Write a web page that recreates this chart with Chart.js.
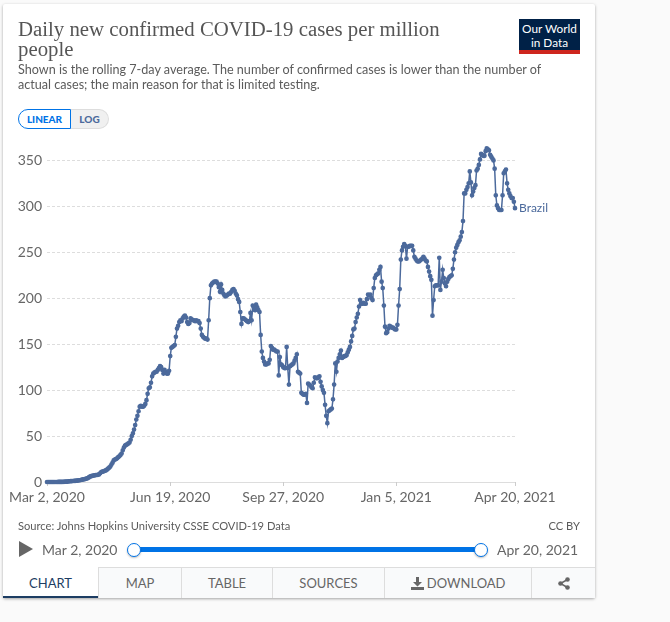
<!DOCTYPE html>
<html>
<head>
<meta charset="utf-8">
<title>Daily new confirmed COVID-19 cases per million people</title>
<script src="https://cdn.jsdelivr.net/npm/chart.js@4"></script>
<style>
html, body { margin: 0; padding: 0; width: 670px; height: 622px; overflow: hidden; background: #fafafa; font-family: Lato, sans-serif; }
#card { position: absolute; left: 3px; top: 4px; width: 592px; height: 594px; background: #fff; border-radius: 2px; box-shadow: 0 1px 3px rgba(0,0,0,.35); }
#graph { position: absolute; left: 0; top: 0; }
.txt { position: absolute; white-space: nowrap; color: #5b5b5b; }
#title { left: 18px; top: 19px; font-family: "Liberation Serif", serif; font-size: 20.8px; line-height: 20px; color: #555; }
#sub { left: 18px; top: 62px; font-size: 12.6px; line-height: 15px; }
#logo { position: absolute; left: 519px; top: 19px; width: 61px; background: #002147; border-bottom: 4px solid #ce261e; color: #fff; font-size: 11.8px; line-height: 13.5px; text-align: center; padding-top: 3px; height: 28px; }
.btn { position: absolute; top: 109px; height: 20px; box-sizing: border-box; font-size: 10px; font-weight: 900; line-height: 18px; text-align: center; }
#linear { left: 18px; width: 53px; border: 1px solid #0073e6; border-radius: 10px 0 0 10px; color: #0073e6; background: #fff; }
#log { left: 71px; width: 38px; border: 1px solid #ddd; border-left: 0; border-radius: 0 10px 10px 0; color: #4c6a9c; background: #f0f0f0; }
#play { position: absolute; left: 19px; top: 541px; width: 0; height: 0; border-left: 14px solid #666; border-top: 8.5px solid transparent; border-bottom: 8.5px solid transparent; }
#bar { position: absolute; left: 134px; top: 547px; width: 347px; height: 5px; background: #0073e6; }
.knob { position: absolute; top: 543px; width: 14px; height: 14px; box-sizing: border-box; border: 1px solid #0073e6; border-radius: 50%; background: #fff; box-shadow: 0 1px 2px rgba(0,0,0,.25); }
.tab { position: absolute; top: 567px; height: 31px; box-sizing: border-box; background: #f9fafb; border-top: 1px solid #ddd; border-left: 1px solid #ddd; color: #666; font-size: 13px; line-height: 31px; text-align: center; }
</style>
</head>
<body>
<div id="card"></div>
<canvas id="graph" width="670" height="622"></canvas>

<div id="title" class="txt">Daily new confirmed COVID-19 cases per million<br>people</div>
<div id="sub" class="txt">Shown is the rolling 7-day average. The number of confirmed cases is lower than the number of<br>actual cases; the main reason for that is limited testing.</div>
<div id="logo">Our World<br>in Data</div>
<div id="linear" class="btn">LINEAR</div>
<div id="log" class="btn">LOG</div>

<div class="txt" style="left:18px;top:519px;font-size:11.15px;">Source: Johns Hopkins University CSSE COVID-19 Data</div>
<div class="txt" style="right:90px;top:519px;font-size:11.15px;">CC BY</div>

<div id="play"></div>
<div class="txt" style="left:42px;top:541px;font-size:14px;color:#666;">Mar 2, 2020</div>
<div id="bar"></div>
<div class="knob" style="left:127px;"></div>
<div class="knob" style="left:474px;"></div>
<div class="txt" style="left:497px;top:541px;font-size:14px;color:#666;">Apr 20, 2021</div>

<div class="tab" style="left:3px;width:95px;background:#fff;border-top:0;border-left:0;border-bottom:2px solid #1d3d63;color:#1d3d63;line-height:33px;">CHART</div>
<div class="tab" style="left:98px;width:83px;">MAP</div>
<div class="tab" style="left:181px;width:91px;">TABLE</div>
<div class="tab" style="left:272px;width:112px;">SOURCES</div>
<div class="tab" style="left:384px;width:147px;"><svg width="13" height="13" viewBox="0 0 13 13" style="vertical-align:-2px"><path fill="#666" d="M5 0h3v5h3L6.500 9.500 2 5h3zM0 10h13v3H0z"/></svg> DOWNLOAD</div>
<div class="tab" style="left:531px;width:64px;"><svg width="12" height="13" viewBox="0 0 12 13" style="vertical-align:-2px"><circle cx="9.500" cy="2.500" r="2.300" fill="#666"/><circle cx="2.500" cy="6.500" r="2.300" fill="#666"/><circle cx="9.500" cy="10.500" r="2.300" fill="#666"/><path stroke="#666" stroke-width="1.500" d="M9.500 2.500l-7 4 7 4" fill="none"/></svg></div>

<script>
// valeurs, un tableau par mois (cas par million, moyenne 7 jours)
const mar2020 = [0,0,0,0,0,0,0,0,0,0,0.1,0.1,0.1,0.1,0.2,0.2,0.3,0.3,0.5,0.6,0.8,0.9,1,1.1,1.2,1.3,1.5,1.6,1.8,1.9];
const apr2020 = [2.2,2.5,2.8,3,3.3,3.7,4.2,5,5.8,6.3,6.7,7,7.3,7.5,7.6,7.8,8.2,9.5,10.8,11.2,11.6,12,12.6,13.4,14.5,15.6,16.8,19,21,23.5];
const may2020 = [24.5,25,25.8,27,28,29.5,31,34.5,37.5,39.5,40.5,41,42,43,46,50,53,57,62,68,72,77,82,83,82,82,83,85,89,96,102];
const jun2020 = [103,108,115,118,119,120,120,122,124,126,125,122,118,122,120,118,118,121,137,146,147,148,149,158,167,170,174,176,175,178];
const jul2020 = [180,181,179,174,172,173,178,177,176,176,175,176,175,175,173,167,160,158,157,156,156,155,176,200,214,216,217,218,218,218,216];
const aug2020 = [212,207,215,209,205,203,202,203,204,205,205,207,209,210,208,205,203,199,196,185,172,178,178,177,176,175,174,175,184,176,192];
const sep2020 = [190,187,193,190,187,185,160,142,135,131,128,128,129,129,133,148,146,144,144,143,142,142,116,136,128,127,125,124,124,147];
const oct2020 = [124,106,126,127,128,129,132,135,139,120,119,118,97,96,95,95,96,86,107,106,105,103,102,108,114,113,113,114,115,109,104];
const nov2020 = [100,97,84,72,64,77,78,79,80,90,106,129,120,131,135,139,143,135,136,137,137,138,141,144,147,153,159,166,167,174];
const dec2020 = [179,183,191,198,194,194,195,194,194,199,204,203,204,200,198,211,222,225,226,227,231,234,218,211,192,169,162,163,167,170,169];
const jan2021 = [168,168,167,166,166,171,192,210,242,252,256,259,257,243,256,256,257,257,257,252,245,243,241,240,240,241,242,243,245,243,241];
const feb2021 = [240,234,229,224,220,181,198,213,214,214,214,244,209,218,231,222,216,213,218,221,223,224,225,232,242,250,255,258];
const mar2021 = [261,263,267,272,284,314,314,318,321,325,338,326,312,316,320,323,339,341,345,351,357,356,355,355,360,363,362,361,356,354,352];
const apr2021 = [350,341,312,301,298,296,296,296,312,336,338,340,325,318,314,311,309,309,305,298];

const brazilValues = [].concat(mar2020, apr2020, may2020, jun2020, jul2020, aug2020, sep2020, oct2020, nov2020, dec2020, jan2021, feb2021, mar2021, apr2021);
const seriesName = 'Brazil';

// ticks de l'axe x : nombre de jours depuis le 2 mars 2020
const xTickDays = [0, 109, 209, 309, 414];
const xTickLabels = ['Mar 2, 2020', 'Jun 19, 2020', 'Sep 27, 2020', 'Jan 5, 2021', 'Apr 20, 2021'];
const yTicks = [0, 50, 100, 150, 200, 250, 300, 350];

const points = brazilValues.map((v, i) => ({ x: i, y: v }));

// nom de la serie au bout de la ligne
const endLabel = {
    id: 'endLabel',
    afterDatasetsDraw(chart) {
        const last = points[points.length - 1];
        const ctx = chart.ctx;
        ctx.save();
        ctx.font = '12px Lato';
        ctx.fillStyle = '#4c6a9c';
        ctx.textBaseline = 'middle';
        ctx.fillText(seriesName, chart.scales.x.getPixelForValue(last.x) + 4, chart.scales.y.getPixelForValue(last.y));
        ctx.restore();
    }
};

new Chart(document.getElementById('graph').getContext('2d'), {
    type: 'line',
    data: {
        datasets: [{
            label: seriesName,
            data: points,
            borderColor: '#4c6a9c',
            backgroundColor: '#4c6a9c',
            borderWidth: 1.5,
            pointRadius: 1.6,
            tension: 0,
            clip: false
        }]
    },
    options: {
        responsive: false,
        animation: false,
        devicePixelRatio: 1,
        layout: { padding: { left: 0, right: 155, top: 142, bottom: 0 } },
        plugins: { legend: { display: false }, tooltip: { enabled: false } },
        scales: {
            x: {
                type: 'linear',
                min: 0,
                max: 414,
                afterBuildTicks(axis) { axis.ticks = xTickDays.map(d => ({ value: d })); },
                afterFit(axis) { axis.height = 140; },
                grid: { display: false, drawTicks: false },
                border: { color: '#ddd', width: 1 },
                ticks: {
                    autoSkip: false,
                    maxRotation: 0,
                    padding: 7,
                    color: '#666',
                    font: { family: 'Lato', size: 14 },
                    callback(value) { return xTickLabels[xTickDays.indexOf(value)]; }
                }
            },
            y: {
                min: 0,
                max: 370,
                afterBuildTicks(axis) { axis.ticks = yTicks.map(v => ({ value: v })); },
                afterFit(axis) { axis.width = 47; },
                grid: { color: '#ddd', drawTicks: false, tickLength: 0 },
                border: { display: false, dash: [3, 2] },
                ticks: {
                    padding: 5,
                    color: '#666',
                    font: { family: 'Lato', size: 14 }
                }
            }
        }
    },
    plugins: [endLabel, {
        // petits traits sous l'axe x, aux dates affichees
        id: 'xTickMarks',
        beforeDatasetsDraw(chart) {
            const ctx = chart.ctx;
            const bottom = chart.scales.x.top;
            ctx.save();
            ctx.strokeStyle = '#ccc';
            xTickDays.forEach(d => {
                const x = Math.round(chart.scales.x.getPixelForValue(d)) + 0.5;
                ctx.beginPath();
                ctx.moveTo(x, bottom);
                ctx.lineTo(x, bottom + 4);
                ctx.stroke();
            });
            ctx.restore();
        }
    }]
});
</script>
</body>
</html>
